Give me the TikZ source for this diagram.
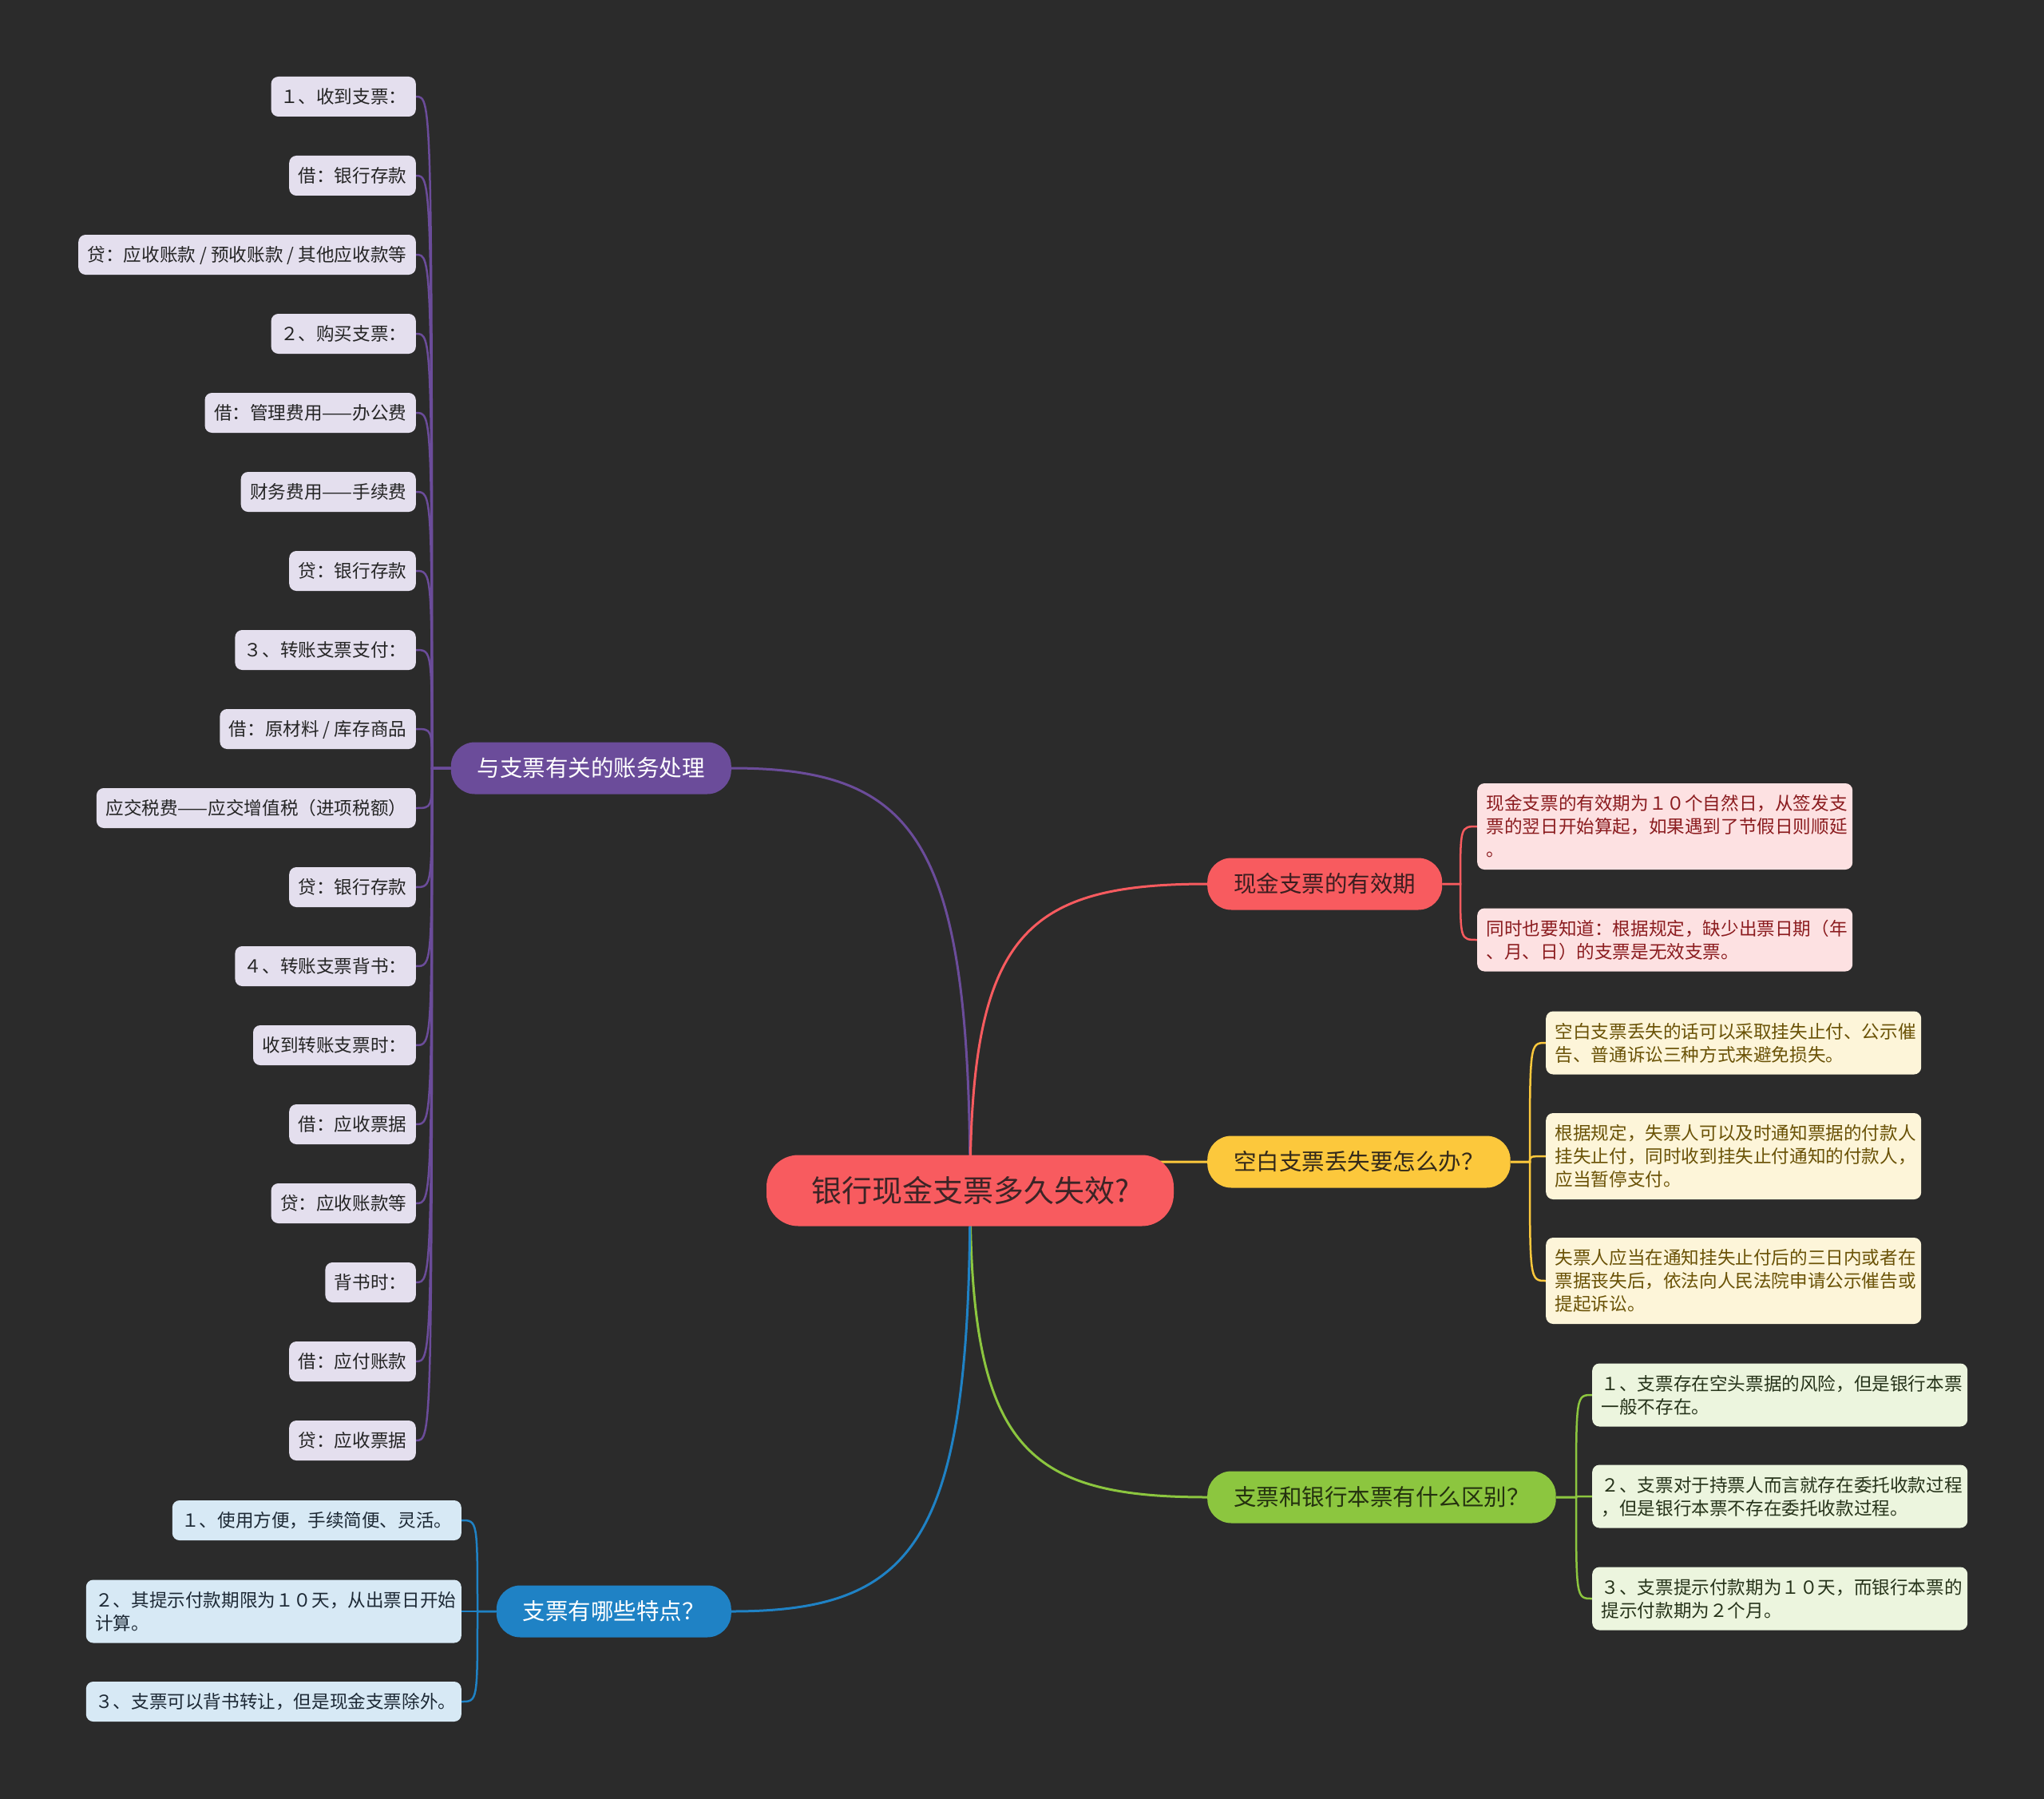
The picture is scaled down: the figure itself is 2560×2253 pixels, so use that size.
\documentclass[tikz,border=0pt]{standalone}
\usepackage{fontspec}
\setmainfont{Noto Sans CJK SC}
\usetikzlibrary{calc,backgrounds}

\definecolor{cfond}{HTML}{2B2B2B}
\definecolor{rootfill}{HTML}{F85B5F}
\definecolor{rootink}{HTML}{3C2426}
\definecolor{acctcol}{HTML}{6B4C9A}
\definecolor{validcol}{HTML}{F85B5F}
\definecolor{validink}{HTML}{3C1E20}
\definecolor{lostcol}{HTML}{FCC83C}
\definecolor{lostink}{HTML}{33291A}
\definecolor{diffcol}{HTML}{8CC63F}
\definecolor{diffink}{HTML}{24310F}
\definecolor{featcol}{HTML}{1F82C5}
\definecolor{acctpale}{HTML}{E4DFEE}
\definecolor{acctdark}{HTML}{252525}
\definecolor{validpale}{HTML}{FDE1E2}
\definecolor{validdark}{HTML}{8B1C1F}
\definecolor{lostpale}{HTML}{FDF5D9}
\definecolor{lostdark}{HTML}{6A5206}
\definecolor{diffpale}{HTML}{ECF5DE}
\definecolor{diffdark}{HTML}{26331A}
\definecolor{featpale}{HTML}{D7E9F5}
\definecolor{featdark}{HTML}{1D2935}

\newcommand\leafstrut{\rule[-6pt]{0pt}{29pt}}

\tikzset{
rootbox/.style={fill=rootfill, text=rootink, rounded corners=40,
  minimum height=89, inner xsep=56, font=\fontsize{38}{44}\selectfont},
branchbox/.style={rounded corners=30, minimum height=65, inner xsep=33,
  font=\fontsize{28.5}{34}\selectfont},
leafbox/.style={rounded corners=9, inner xsep=11.5, inner ysep=10.5,
  align=left, font=\fontsize{22.6}{29}\selectfont,
  execute at begin node={\noindent\leafstrut},
  execute at end node=\leafstrut},
wideleaf/.style={leafbox, text width=447},
acctleaf/.style={leafbox, fill=acctpale, text=acctdark, anchor=east},
validleaf/.style={wideleaf, fill=validpale, text=validdark, anchor=west},
lostleaf/.style={wideleaf, fill=lostpale, text=lostdark, anchor=west},
diffleaf/.style={wideleaf, fill=diffpale, text=diffdark, anchor=west},
featleaf/.style={leafbox, fill=featpale, text=featdark, anchor=east},
mainlink/.style={line width=3},
leaflink/.style={line width=2.5},
}

\begin{document}
\begin{tikzpicture}[x=1pt,y=-1pt]

% Fond
\begin{scope}[on background layer]
\fill[cfond]
(0,0)
rectangle
(2560,2253);
\end{scope}
\useasboundingbox
(0,0)
rectangle
(2560,2253);

% Centre
\node[rootbox] (root)
at (1215,1491)
{银行现金支票多久失效?};

% Branches
\node[branchbox, fill=acctcol, text=white, anchor=east] (acct)
at (916,962)
{与支票有关的账务处理};

\node[branchbox, fill=validcol, text=validink, anchor=west] (valid)
at (1512,1107)
{现金支票的有效期};

\node[branchbox, fill=lostcol, text=lostink, anchor=west] (lost)
at (1512,1455)
{空白支票丢失要怎么办？};

\node[branchbox, fill=diffcol, text=diffink, anchor=west] (diff)
at (1512,1875)
{支票和银行本票有什么区别？};

\node[branchbox, fill=featcol, text=white, anchor=east] (feat)
at (916,2018)
{支票有哪些特点？};

% Points de jonction
\coordinate (aj) at (541,962);
\coordinate (vj) at (1829,1107);
\coordinate (lj) at (1916,1455);
\coordinate (dj) at (1974,1875);
\coordinate (fj) at (598,2018);

% Feuilles : comptabilité
\node[acctleaf] (a1)
at (521,121)
{１、收到支票：};

\node[acctleaf] (a2)
at (521,220)
{借：银行存款};

\node[acctleaf] (a3)
at (521,319)
{贷：应收账款 / 预收账款 / 其他应收款等};

\node[acctleaf] (a4)
at (521,418)
{２、购买支票：};

\node[acctleaf] (a5)
at (521,517)
{借：管理费用——办公费};

\node[acctleaf] (a6)
at (521,616)
{财务费用——手续费};

\node[acctleaf] (a7)
at (521,715)
{贷：银行存款};

\node[acctleaf] (a8)
at (521,814)
{３、转账支票支付：};

\node[acctleaf] (a9)
at (521,913)
{借：原材料 / 库存商品};

\node[acctleaf] (a10)
at (521,1012)
{应交税费——应交增值税（进项税额）};

\node[acctleaf] (a11)
at (521,1111)
{贷：银行存款};

\node[acctleaf] (a12)
at (521,1210)
{４、转账支票背书：};

\node[acctleaf] (a13)
at (521,1309)
{收到转账支票时：};

\node[acctleaf] (a14)
at (521,1408)
{借：应收票据};

\node[acctleaf] (a15)
at (521,1507)
{贷：应收账款等};

\node[acctleaf] (a16)
at (521,1606)
{背书时：};

\node[acctleaf] (a17)
at (521,1705)
{借：应付账款};

\node[acctleaf] (a18)
at (521,1804)
{贷：应收票据};

% Feuilles : validité
\node[validleaf] (v1)
at (1850,1035)
{现金支票的有效期为１０个自然日，从签发支\\票的翌日开始算起，如果遇到了节假日则顺延\\。};

\node[validleaf] (v2)
at (1850,1177)
{同时也要知道：根据规定，缺少出票日期（年\\、月、日）的支票是无效支票。};

% Feuilles : perte
\node[lostleaf] (l1)
at (1936,1306)
{空白支票丢失的话可以采取挂失止付、公示催\\告、普通诉讼三种方式来避免损失。};

\node[lostleaf] (l2)
at (1936,1448)
{根据规定，失票人可以及时通知票据的付款人\\挂失止付，同时收到挂失止付通知的付款人，\\应当暂停支付。};

\node[lostleaf] (l3)
at (1936,1604)
{失票人应当在通知挂失止付后的三日内或者在\\票据丧失后，依法向人民法院申请公示催告或\\提起诉讼。};

% Feuilles : différences
\node[diffleaf] (d1)
at (1994,1747)
{１、支票存在空头票据的风险，但是银行本票\\一般不存在。};

\node[diffleaf] (d2)
at (1994,1874)
{２、支票对于持票人而言就存在委托收款过程\\，但是银行本票不存在委托收款过程。};

\node[diffleaf] (d3)
at (1994,2002)
{３、支票提示付款期为１０天，而银行本票的\\提示付款期为２个月。};

% Feuilles : caractéristiques
\node[featleaf] (f1)
at (578,1904)
{１、使用方便，手续简便、灵活。};

\node[featleaf, text width=447] (f2)
at (578,2018)
{２、其提示付款期限为１０天，从出票日开始\\计算。};

\node[featleaf, text width=447] (f3)
at (578,2131)
{３、支票可以背书转让，但是现金支票除外。};

% Liens
\begin{scope}[on background layer]

\draw[mainlink, acctcol]
(root.center)
.. controls ($(root.center |- acct.east)!0.17!(root.center)$)
and ($(root.center |- acct.east)!0.22!(acct.east)$) ..
(acct.east);

\draw[mainlink, validcol]
(root.center)
.. controls ($(root.center |- valid.west)!0.17!(root.center)$)
and ($(root.center |- valid.west)!0.22!(valid.west)$) ..
(valid.west);

\draw[mainlink, lostcol]
(root.center)
.. controls ($(root.center |- lost.west)!0.17!(root.center)$)
and ($(root.center |- lost.west)!0.22!(lost.west)$) ..
(lost.west);

\draw[mainlink, diffcol]
(root.center)
.. controls ($(root.center |- diff.west)!0.17!(root.center)$)
and ($(root.center |- diff.west)!0.22!(diff.west)$) ..
(diff.west);

\draw[mainlink, featcol]
(root.center)
.. controls ($(root.center |- feat.east)!0.17!(root.center)$)
and ($(root.center |- feat.east)!0.22!(feat.east)$) ..
(feat.east);

\draw[leaflink, acctcol] (acct.west) -- (aj) .. controls (aj |- a1.east) .. (a1.east);
\draw[leaflink, acctcol] (acct.west) -- (aj) .. controls (aj |- a2.east) .. (a2.east);
\draw[leaflink, acctcol] (acct.west) -- (aj) .. controls (aj |- a3.east) .. (a3.east);
\draw[leaflink, acctcol] (acct.west) -- (aj) .. controls (aj |- a4.east) .. (a4.east);
\draw[leaflink, acctcol] (acct.west) -- (aj) .. controls (aj |- a5.east) .. (a5.east);
\draw[leaflink, acctcol] (acct.west) -- (aj) .. controls (aj |- a6.east) .. (a6.east);
\draw[leaflink, acctcol] (acct.west) -- (aj) .. controls (aj |- a7.east) .. (a7.east);
\draw[leaflink, acctcol] (acct.west) -- (aj) .. controls (aj |- a8.east) .. (a8.east);
\draw[leaflink, acctcol] (acct.west) -- (aj) .. controls (aj |- a9.east) .. (a9.east);
\draw[leaflink, acctcol] (acct.west) -- (aj) .. controls (aj |- a10.east) .. (a10.east);
\draw[leaflink, acctcol] (acct.west) -- (aj) .. controls (aj |- a11.east) .. (a11.east);
\draw[leaflink, acctcol] (acct.west) -- (aj) .. controls (aj |- a12.east) .. (a12.east);
\draw[leaflink, acctcol] (acct.west) -- (aj) .. controls (aj |- a13.east) .. (a13.east);
\draw[leaflink, acctcol] (acct.west) -- (aj) .. controls (aj |- a14.east) .. (a14.east);
\draw[leaflink, acctcol] (acct.west) -- (aj) .. controls (aj |- a15.east) .. (a15.east);
\draw[leaflink, acctcol] (acct.west) -- (aj) .. controls (aj |- a16.east) .. (a16.east);
\draw[leaflink, acctcol] (acct.west) -- (aj) .. controls (aj |- a17.east) .. (a17.east);
\draw[leaflink, acctcol] (acct.west) -- (aj) .. controls (aj |- a18.east) .. (a18.east);

\draw[leaflink, validcol] (valid.east) -- (vj) .. controls (vj |- v1.west) .. (v1.west);
\draw[leaflink, validcol] (valid.east) -- (vj) .. controls (vj |- v2.west) .. (v2.west);

\draw[leaflink, lostcol] (lost.east) -- (lj) .. controls (lj |- l1.west) .. (l1.west);
\draw[leaflink, lostcol] (lost.east) -- (lj) .. controls (lj |- l2.west) .. (l2.west);
\draw[leaflink, lostcol] (lost.east) -- (lj) .. controls (lj |- l3.west) .. (l3.west);

\draw[leaflink, diffcol] (diff.east) -- (dj) .. controls (dj |- d1.west) .. (d1.west);
\draw[leaflink, diffcol] (diff.east) -- (dj) .. controls (dj |- d2.west) .. (d2.west);
\draw[leaflink, diffcol] (diff.east) -- (dj) .. controls (dj |- d3.west) .. (d3.west);

\draw[leaflink, featcol] (feat.west) -- (fj) .. controls (fj |- f1.east) .. (f1.east);
\draw[leaflink, featcol] (feat.west) -- (fj) .. controls (fj |- f2.east) .. (f2.east);
\draw[leaflink, featcol] (feat.west) -- (fj) .. controls (fj |- f3.east) .. (f3.east);

\end{scope}

\end{tikzpicture}
\end{document}
